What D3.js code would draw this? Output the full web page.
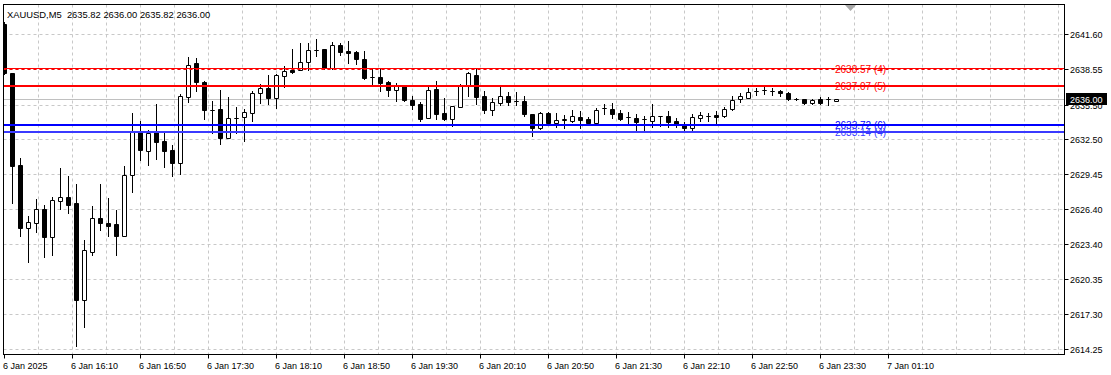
<!DOCTYPE html>
<html>
<head>
<meta charset="utf-8">
<script src="https://cdn.jsdelivr.net/npm/d3@7"></script>
<style>
  body { margin: 0; background: #fff; }
  svg { display: block; }
  text { font-family: "Liberation Sans", Arial, sans-serif; font-size: 9px; fill: #000; }
</style>
</head>
<body>
<svg id="chart" width="1111" height="375"></svg>
<script>
// XAUUSD M5 candles
const opens = [
  2642.54, 2638.24, 2630.25, 2624.76, 2625.19, 2626.43, 2624.03, 2627.10, 2627.45, 2626.93,
  2618.53, 2622.72, 2625.65, 2625.22, 2625.13, 2624.11, 2629.41, 2633.14, 2631.49, 2633.09,
  2632.31, 2631.55, 2630.45, 2636.18, 2639.08, 2637.46, 2635.05, 2635.09, 2632.57, 2634.31,
  2634.39, 2634.74, 2636.48, 2636.91, 2636.04, 2638.01, 2638.50, 2638.47, 2639.17, 2640.21,
  2640.32, 2638.70, 2640.67, 2640.15, 2640.04, 2639.43, 2637.92, 2637.89, 2637.43, 2636.76,
  2637.11, 2635.90, 2635.55, 2634.33, 2636.82, 2634.77, 2634.22, 2635.31, 2637.20, 2638.07,
  2636.24, 2635.05, 2635.66, 2636.24, 2635.81, 2635.81, 2634.68, 2633.49, 2634.77, 2633.92,
  2634.20, 2634.10, 2634.39, 2634.22, 2633.92, 2635.18, 2635.09, 2634.74, 2634.39, 2634.36,
  2634.22, 2634.07, 2634.53, 2634.53, 2634.07, 2633.79, 2633.44, 2634.36, 2634.51, 2634.59,
  2634.51, 2635.09, 2635.96, 2636.10, 2636.70, 2636.76, 2636.68, 2636.70, 2636.48, 2635.96,
  2635.96, 2635.61, 2635.98, 2635.96, 2635.82
];
const highs = [
  2642.67, 2638.24, 2630.83, 2625.82, 2627.30, 2626.78, 2627.50, 2629.97, 2629.30, 2628.60,
  2623.74, 2626.69, 2628.60, 2627.36, 2626.35, 2630.17, 2634.74, 2634.10, 2633.29, 2635.52,
  2633.06, 2631.99, 2636.42, 2639.63, 2639.54, 2637.55, 2635.81, 2636.76, 2636.16, 2635.26,
  2635.09, 2636.68, 2637.26, 2638.04, 2638.15, 2638.85, 2640.32, 2640.82, 2640.82, 2641.17,
  2640.32, 2640.91, 2640.82, 2641.02, 2640.15, 2640.15, 2638.56, 2638.56, 2637.55, 2637.40,
  2637.17, 2636.24, 2635.75, 2637.05, 2637.55, 2636.04, 2635.35, 2637.29, 2638.30, 2638.56,
  2636.68, 2636.04, 2637.11, 2636.62, 2636.59, 2636.24, 2634.68, 2634.88, 2634.88, 2634.74,
  2634.59, 2635.03, 2634.94, 2634.45, 2635.18, 2635.52, 2635.61, 2635.03, 2634.83, 2634.65,
  2634.51, 2635.52, 2634.55, 2634.97, 2634.36, 2634.01, 2634.65, 2634.83, 2634.74, 2634.94,
  2635.31, 2636.27, 2636.48, 2636.91, 2636.91, 2637.14, 2636.96, 2636.76, 2636.56, 2636.10,
  2635.98, 2635.98, 2636.13, 2636.18, 2636.00
];
const lows = [
  2638.15, 2626.93, 2624.09, 2621.86, 2624.46, 2622.29, 2622.44, 2626.43, 2626.06, 2614.54,
  2616.21, 2622.44, 2624.61, 2624.09, 2622.44, 2624.09, 2627.93, 2630.69, 2630.25, 2630.77,
  2630.10, 2629.30, 2629.47, 2635.75, 2636.70, 2634.22, 2633.06, 2632.10, 2632.57, 2633.06,
  2632.36, 2634.10, 2635.66, 2635.57, 2635.23, 2637.05, 2638.21, 2638.47, 2638.50, 2639.72,
  2638.56, 2638.56, 2639.80, 2639.08, 2639.02, 2637.69, 2637.11, 2636.68, 2636.27, 2635.81,
  2635.81, 2635.09, 2634.10, 2634.30, 2634.25, 2634.16, 2633.66, 2635.26, 2636.24, 2635.55,
  2634.79, 2634.59, 2635.46, 2635.46, 2635.46, 2634.51, 2632.80, 2633.40, 2633.87, 2633.58,
  2633.44, 2634.01, 2633.49, 2633.79, 2633.79, 2634.65, 2634.36, 2634.16, 2633.87, 2633.29,
  2633.14, 2633.58, 2633.66, 2633.58, 2633.58, 2633.14, 2633.14, 2634.07, 2634.07, 2633.87,
  2634.45, 2635.03, 2635.75, 2636.04, 2636.33, 2636.42, 2636.33, 2636.27, 2635.90, 2635.90,
  2635.52, 2635.52, 2635.52, 2635.46, 2635.82
];
const closes = [
  2638.20, 2630.19, 2624.76, 2625.28, 2626.43, 2624.03, 2627.21, 2627.45, 2626.81, 2618.53,
  2622.85, 2625.65, 2625.19, 2624.98, 2624.11, 2629.36, 2633.14, 2631.55, 2633.00, 2632.28,
  2631.49, 2630.45, 2636.24, 2638.93, 2637.48, 2635.05, 2635.04, 2632.57, 2634.31, 2634.32,
  2634.83, 2636.48, 2636.91, 2636.04, 2638.04, 2638.41, 2638.35, 2639.17, 2640.24, 2640.21,
  2638.70, 2640.67, 2640.09, 2639.95, 2639.43, 2637.78, 2637.92, 2637.40, 2636.76, 2637.11,
  2635.90, 2635.46, 2634.25, 2636.76, 2634.71, 2634.22, 2635.35, 2637.20, 2638.21, 2636.18,
  2635.03, 2635.70, 2636.24, 2635.75, 2635.81, 2634.65, 2633.49, 2634.74, 2633.94, 2634.16,
  2634.22, 2634.51, 2634.19, 2633.92, 2635.03, 2635.18, 2634.65, 2634.25, 2634.39, 2634.01,
  2634.22, 2634.53, 2634.53, 2634.01, 2633.73, 2633.44, 2634.45, 2634.59, 2634.51, 2634.45,
  2635.09, 2635.90, 2636.24, 2636.56, 2636.70, 2636.76, 2636.68, 2636.48, 2635.96, 2635.96,
  2635.61, 2635.90, 2635.66, 2635.96, 2636.00
];

const priceTicks = [2641.60, 2638.55, 2635.50, 2632.50, 2629.45, 2626.40, 2623.40, 2620.35, 2617.30, 2614.25];
const timeLabels = ['6 Jan 2025', '6 Jan 16:10', '6 Jan 16:50', '6 Jan 17:30', '6 Jan 18:10', '6 Jan 18:50',
  '6 Jan 19:30', '6 Jan 20:10', '6 Jan 20:50', '6 Jan 21:30', '6 Jan 22:10', '6 Jan 22:50', '6 Jan 23:30', '7 Jan 01:10'];
const timeLabelBars = [0, 8.5, 17, 25.5, 34, 42.5, 51, 59.5, 68, 76.5, 85, 93.5, 102, 110.5];

const levelPrices = [2638.57, 2637.07, 2633.72, 2633.14];
const levelLabels = ['2638.57 (4)', '2637.07 (5)', '2633.72 (6)', '2633.14 (4)'];
const levelColors = ['#ff0000', '#ff0000', '#0000ff', '#3a3aff'];

const title = 'XAUUSD,M5  2635.82 2636.00 2635.82 2636.00';
const bid = 2636.00;

const svg = d3.select('#chart');
const plotL = 3.5, plotR = 1064.5, plotT = 4.5, plotB = 354.5;

const x = d3.scaleLinear().domain([0, 132]).range([4.5, 1060.5]);
const y = d3.scaleLinear().domain([2613.84, 2644.19]).range([354, 4.5]);
const py = v => Math.round(y(v)) + 0.5;

svg.append('defs').append('clipPath').attr('id', 'plot')
  .append('rect').attr('x', 4).attr('y', 5).attr('width', plotR - 4).attr('height', plotB - 5);

const plot = svg.append('g').attr('clip-path', 'url(#plot)');

// grid
const gridBars = d3.range(4.25, 132, 4.25);
plot.append('g').selectAll('line').data(gridBars).enter().append('line')
  .attr('x1', d => Math.floor(x(d)) + 0.5).attr('x2', d => Math.floor(x(d)) + 0.5)
  .attr('y1', plotT).attr('y2', plotB)
  .attr('stroke', '#c8c8c8').attr('stroke-dasharray', '3,3');
plot.append('g').selectAll('line').data(priceTicks).enter().append('line')
  .attr('x1', plotL).attr('x2', plotR)
  .attr('y1', d => py(d)).attr('y2', d => py(d))
  .attr('stroke', '#c8c8c8').attr('stroke-dasharray', '3,3');

// bid line
plot.append('line')
  .attr('x1', plotL).attr('x2', plotR).attr('y1', py(bid)).attr('y2', py(bid))
  .attr('stroke', '#c0c0c0');

// candles
const candles = d3.range(opens.length).map(i => ({ i, o: opens[i], h: highs[i], l: lows[i], c: closes[i] }));
const cg = plot.append('g').selectAll('g').data(candles).enter().append('g');
cg.append('line')
  .attr('x1', d => x(d.i)).attr('x2', d => x(d.i))
  .attr('y1', d => py(d.h) - 0.5).attr('y2', d => py(d.l) + 0.5)
  .attr('stroke', '#000');
cg.append('path')
  .attr('d', d => {
    const x0 = x(d.i) - 2, x1 = x(d.i) + 2;
    const y0 = py(Math.max(d.o, d.c)), y1 = py(Math.min(d.o, d.c));
    return `M${x0},${y0}H${x1}V${y1}H${x0}Z`;
  })
  .attr('fill', d => d.c >= d.o ? '#fff' : '#000')
  .attr('stroke', '#000');

// horizontal levels
levelPrices.forEach((p, k) => {
  const yy = Math.round(y(p));
  if (k === 0) {
    plot.append('line').attr('x1', plotL).attr('x2', plotR).attr('y1', yy - 0.5).attr('y2', yy - 0.5)
      .attr('stroke', levelColors[k]);
    plot.append('line').attr('x1', plotL).attr('x2', plotR).attr('y1', yy + 0.5).attr('y2', yy + 0.5)
      .attr('stroke', levelColors[k]).attr('stroke-dasharray', '3,3');
  } else {
    plot.append('line').attr('x1', plotL).attr('x2', plotR).attr('y1', yy).attr('y2', yy)
      .attr('stroke', levelColors[k]).attr('stroke-width', 2);
  }
  plot.append('text')
    .attr('x', 835).attr('y', yy + 3.5)
    .style('font-size', '10px')
    .style('fill', levelColors[k])
    .text(levelLabels[k]);
});

// chart shift marker
svg.append('path').attr('d', 'M845,5H856L850.5,11Z').attr('fill', '#a8a8a8');

// frame
svg.append('rect')
  .attr('x', plotL).attr('y', plotT).attr('width', plotR - plotL).attr('height', plotB - plotT)
  .attr('fill', 'none').attr('stroke', '#000');

// price axis
const pa = svg.append('g');
pa.selectAll('line').data(priceTicks).enter().append('line')
  .attr('x1', plotR).attr('x2', plotR + 4)
  .attr('y1', d => py(d)).attr('y2', d => py(d))
  .attr('stroke', '#000');
pa.selectAll('text').data(priceTicks).enter().append('text')
  .attr('x', 1070).attr('y', d => Math.round(y(d)) + 3.5)
  .text(d => d.toFixed(2));

// bid label
svg.append('rect').attr('x', 1066).attr('y', Math.round(y(bid)) - 6).attr('width', 41).attr('height', 12).attr('fill', '#000');
svg.append('text').attr('x', 1070).attr('y', Math.round(y(bid)) + 3.5).style('fill', '#fff').text(bid.toFixed(2));

// time axis
const ta = svg.append('g');
ta.selectAll('line').data(timeLabelBars).enter().append('line')
  .attr('x1', d => Math.floor(x(d)) + 0.5).attr('x2', d => Math.floor(x(d)) + 0.5)
  .attr('y1', plotB).attr('y2', plotB + 4)
  .attr('stroke', '#000');
ta.selectAll('text').data(timeLabels).enter().append('text')
  .attr('x', (d, k) => Math.floor(x(timeLabelBars[k])) - 1)
  .attr('y', 369)
  .text(d => d);

// title
svg.append('text').attr('x', 7).attr('y', 18).style('font-size', '9.4px').style('white-space', 'pre').text(title);
</script>
</body>
</html>
